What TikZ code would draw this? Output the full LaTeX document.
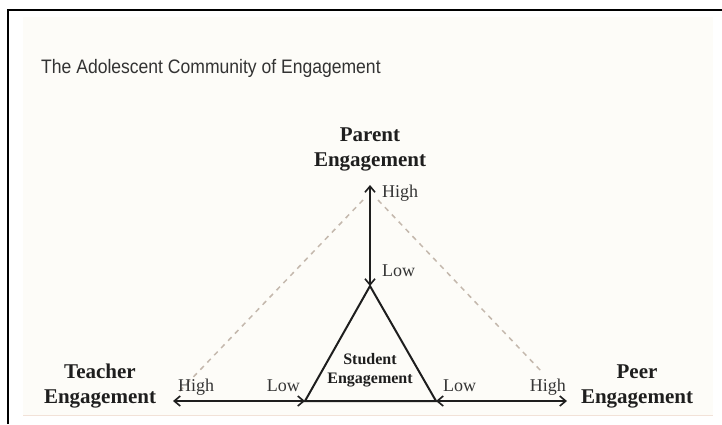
\documentclass[tikz,border=0pt]{standalone}
\usepackage{fontspec}
\setmainfont{Liberation Serif}
\newfontfamily\headfont[FakeStretch=0.9]{Liberation Sans}
\usetikzlibrary{arrows.meta,positioning}
\definecolor{paper}{HTML}{FDFCF8}
\definecolor{rim}{HTML}{F2E2D8}
\definecolor{hullgray}{HTML}{C4B8AD}
\definecolor{ink}{HTML}{1E1E1E}
\tikzstyle{party} = [align=center,inner sep=0,text=ink,font=\fontsize{21}{25}\selectfont\bfseries]
\tikzstyle{level} = [inner sep=0,text height=12pt,text depth=4pt,text=ink!90,font=\fontsize{18}{20}\selectfont]
\tikzstyle{spoke} = [{Straight Barb[length=6pt,width=10pt]}-{Straight Barb[length=6pt,width=10pt]},line width=1.6pt,ink]
\tikzstyle{hull} = [hullgray,line width=1.5pt,dash pattern=on 5pt off 5pt]

\begin{document}
\begin{tikzpicture}[x=1pt,y=-1pt]
      \useasboundingbox (0,0) rectangle (722,424);
      % page and frame
      \fill[paper] (23,17) rectangle (713,415);
      \draw[rim,line width=1pt] (23,415) -- (713,415);
      \draw[line width=2pt] (8,424) -- (8,10) -- (722,10);
      \node[anchor=base west,inner sep=0,text=black!80,font=\headfont\fontsize{19.5}{22}\selectfont] (title) at (41,73) {The Adolescent Community of Engagement};
      % corners of the student triangle and ends of the scales
      \coordinate (apex) at (370,286);
      \coordinate (bl) at (305,401);
      \coordinate (br) at (436,401);
      \coordinate (ptop) at (370,185);
      \coordinate (tend) at (173,401);
      \coordinate (rend) at (567,401);
      \draw[hull] (363,200) -- (178,393);
      \draw[hull] (378,200) -- (542,372);
      \draw[line width=2pt,ink] (apex) -- (bl) -- (br) -- cycle;
      \draw[spoke] (ptop) -- (apex);
      \draw[spoke] (tend) -- (bl);
      \draw[spoke] (br) -- (rend);
      \node[level,below right=0pt and 12pt of ptop] (phi) {High};
      \node[level,above right=5pt and 12pt of apex] (plo) {Low};
      \node[level,above right=5pt and 5pt of tend] (thi) {High};
      \node[level,above left=5pt and 5pt of bl] (tlo) {Low};
      \node[level,above right=5pt and 7pt of br] (rlo) {Low};
      \node[level,above left=5pt and 1pt of rend] (rhi) {High};
      \node[party] (parent) at (370,149) {Parent\\Engagement};
      \node[party] (teacher) at (100,386) {Teacher\\Engagement};
      \node[party] (peer) at (637,386) {Peer\\Engagement};
      \node[party,font=\fontsize{16}{19}\selectfont\bfseries] (student) at (370,370) {Student\\Engagement};
\end{tikzpicture}
\end{document}
